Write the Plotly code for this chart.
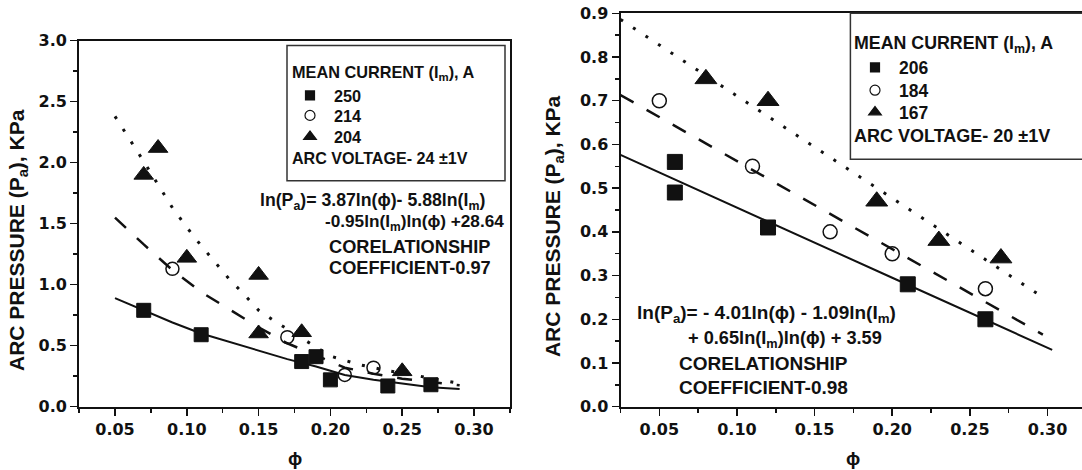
import plotly.graph_objects as go

# ---------------- data ----------------
# Left panel: arc voltage 24 +/-1 V
L_phi_250 = [0.07, 0.11, 0.18, 0.19, 0.20, 0.24, 0.27]
L_pa_250 = [0.79, 0.59, 0.37, 0.41, 0.22, 0.17, 0.18]
L_phi_214 = [0.09, 0.17, 0.21, 0.23]
L_pa_214 = [1.13, 0.57, 0.26, 0.32]
L_phi_204 = [0.07, 0.08, 0.10, 0.15, 0.15, 0.18, 0.25]
L_pa_204 = [1.90, 2.12, 1.22, 1.08, 0.60, 0.61, 0.29]

L_fit_phi_250 = [0.05, 0.07, 0.09, 0.11, 0.13, 0.15, 0.17, 0.19, 0.21, 0.23, 0.25, 0.27, 0.29]
L_fit_pa_250 = [0.89, 0.79, 0.69, 0.60, 0.53, 0.455, 0.39, 0.33, 0.26, 0.22, 0.187, 0.16, 0.145]
L_fit_phi_214 = [0.05, 0.07, 0.09, 0.11, 0.13, 0.15, 0.17, 0.19, 0.21, 0.23, 0.25, 0.27, 0.29]
L_fit_pa_214 = [1.55, 1.33, 1.12, 0.94, 0.795, 0.65, 0.52, 0.42, 0.32, 0.27, 0.23, 0.203, 0.175]
L_fit_phi_204 = [0.05, 0.06, 0.07, 0.08, 0.09, 0.10, 0.11, 0.12, 0.13, 0.14, 0.15, 0.16,
                 0.18, 0.20, 0.22, 0.24, 0.26, 0.29]
L_fit_pa_204 = [2.38, 2.20, 2.01, 1.82, 1.63, 1.47, 1.32, 1.18, 1.04, 0.92, 0.79, 0.71,
                0.56, 0.415, 0.345, 0.295, 0.255, 0.19]

# Right panel: arc voltage 20 +/-1 V
R_phi_206 = [0.06, 0.06, 0.12, 0.21, 0.26]
R_pa_206 = [0.56, 0.49, 0.41, 0.28, 0.20]
R_phi_184 = [0.05, 0.11, 0.16, 0.20, 0.26]
R_pa_184 = [0.70, 0.55, 0.40, 0.35, 0.27]
R_phi_167 = [0.08, 0.12, 0.19, 0.23, 0.27]
R_pa_167 = [0.75, 0.70, 0.47, 0.38, 0.34]

R_fit_phi_206 = [0.025, 0.10, 0.20, 0.303]
R_fit_pa_206 = [0.576, 0.455, 0.295, 0.13]
R_fit_phi_184 = [0.025, 0.10, 0.20, 0.297]
R_fit_pa_184 = [0.713, 0.562, 0.36, 0.165]
R_fit_phi_167 = [0.025, 0.10, 0.20, 0.298]
R_fit_pa_167 = [0.886, 0.71, 0.477, 0.248]

L_names = ["250", "214", "204"]
R_names = ["206", "184", "167"]

# tick values / labels
X_tickvals = [0.05, 0.10, 0.15, 0.20, 0.25, 0.30]
X_ticklabels = ["0.05", "0.10", "0.15", "0.20", "0.25", "0.30"]
L_y_tickvals = [0.0, 0.5, 1.0, 1.5, 2.0, 2.5, 3.0]
L_y_ticklabels = ["0.0", "0.5", "1.0", "1.5", "2.0", "2.5", "3.0"]
R_y_tickvals = [0.0, 0.1, 0.2, 0.3, 0.4, 0.5, 0.6, 0.7, 0.8, 0.9]
R_y_ticklabels = ["0.0", "0.1", "0.2", "0.3", "0.4", "0.5", "0.6", "0.7", "0.8", "0.9"]

# ---------------- figure ----------------
W, H = 1082, 470
def px(x):
    return x / W
def py(y):
    return (H - y) / H

INK = "#111111"
SYM = ["square", "circle-open", "triangle-up"]

fig = go.Figure()

def add_panel(xa, ya, fits, pts, names, legends, msz):
    dashes = ["solid", "15px,15px", "3px,12px"]
    widths = [2, 2.5, 3]
    for (fx, fy), d, w in zip(fits, dashes, widths):
        fig.add_trace(go.Scatter(x=fx, y=fy, mode="lines", xaxis=xa, yaxis=ya,
                                 line=dict(color=INK, width=w, dash=d),
                                 showlegend=False, hoverinfo="skip"))
    for (x, y), s, m in zip(pts, SYM, msz):
        fig.add_trace(go.Scatter(x=x, y=y, mode="markers", xaxis=xa, yaxis=ya,
                                 marker=dict(symbol=s, size=m, color=INK,
                                             line=dict(color=INK, width=1.5 if s == "circle-open" else 1)),
                                 showlegend=False))
    # legend glyphs (one small legend per entry)
    lsz = [9, 10, 11]
    for s, n, m, lg in zip(SYM, names, lsz, legends):
        fig.add_trace(go.Scatter(x=[None], y=[None], mode="markers", xaxis=xa, yaxis=ya,
                                 marker=dict(symbol=s, size=m, color=INK,
                                             line=dict(color=INK, width=1.2)),
                                 name=n, legend=lg, showlegend=True))

add_panel("x", "y",
          [(L_fit_phi_250, L_fit_pa_250), (L_fit_phi_214, L_fit_pa_214), (L_fit_phi_204, L_fit_pa_204)],
          [(L_phi_250, L_pa_250), (L_phi_214, L_pa_214), (L_phi_204, L_pa_204)],
          L_names, ["legend", "legend2", "legend3"], [14, 13, 17])
add_panel("x2", "y2",
          [(R_fit_phi_206, R_fit_pa_206), (R_fit_phi_184, R_fit_pa_184), (R_fit_phi_167, R_fit_pa_167)],
          [(R_phi_206, R_pa_206), (R_phi_184, R_pa_184), (R_phi_167, R_pa_167)],
          R_names, ["legend4", "legend5", "legend6"], [15, 14, 19])

tickfont = dict(family="DejaVu Sans", size=16, color=INK)
axis_common = dict(showline=True, linecolor=INK, linewidth=2, ticks="outside", ticklen=7,
                   tickwidth=1.5, tickcolor=INK, tickfont=tickfont, showgrid=False,
                   zeroline=False, automargin=False, tickmode="array")

def bold(labels):
    return ["<b>%s</b>" % t for t in labels]

def minor(dt):
    return dict(dtick=dt, tick0=0, ticks="outside", ticklen=4, tickwidth=1.5, tickcolor=INK)

def leg(x, y, size):
    return dict(x=px(x), y=py(y), xanchor="left", yanchor="middle",
                font=dict(family="Liberation Sans", size=size, color=INK, weight="bold"),
                bgcolor="rgba(0,0,0,0)", borderwidth=0, itemwidth=38)

fig.update_layout(
    width=W, height=H, margin=dict(l=0, r=0, t=0, b=0),
    paper_bgcolor="white", plot_bgcolor="white", hovermode=False,
    xaxis=dict(domain=[px(79.1), px(509.9)], range=[0.025, 0.325],
               tickvals=X_tickvals, ticktext=bold(X_ticklabels), mirror=True, anchor="y",
               minor=minor(0.025), **axis_common),
    yaxis=dict(domain=[py(406.7), py(40.7)], range=[0, 3.0],
               tickvals=L_y_tickvals, ticktext=bold(L_y_ticklabels), mirror=True, anchor="x",
               minor=minor(0.25), **axis_common),
    xaxis2=dict(domain=[px(620.5), 1.0], range=[0.025, 0.3222],
                tickvals=X_tickvals, ticktext=bold(X_ticklabels), mirror=True, anchor="y2",
                minor=minor(0.025), **axis_common),
    yaxis2=dict(domain=[py(406.7), py(13.3)], range=[0, 0.9],
                tickvals=R_y_tickvals, ticktext=bold(R_y_ticklabels), mirror=False, anchor="x2",
                minor=minor(0.05), **axis_common),
    legend=leg(286, 95.8, 16.3),
    legend2=leg(286, 115.8, 16.3),
    legend3=leg(286, 137, 16.3),
    legend4=leg(851, 67.5, 17.5),
    legend5=leg(851, 90.3, 17.5),
    legend6=leg(851, 112.2, 17.5),
)

# legend boxes
fig.add_shape(type="rect", xref="paper", yref="paper", x0=px(287), x1=px(505), y0=py(180.7), y1=py(45.5),
              line=dict(color="#333333", width=1.5))
fig.add_shape(type="rect", xref="paper", yref="paper", x0=px(850.4), x1=px(1095), y0=py(159.3), y1=py(13.3),
              line=dict(color="#333333", width=1.5))

def note(text, x, y, size=17.5, anchor="left", angle=0):
    fig.add_annotation(text=text, xref="paper", yref="paper", x=px(x), y=py(y),
                       xanchor=anchor, yanchor="middle", showarrow=False, textangle=angle,
                       font=dict(family="Liberation Sans, DejaVu Sans", size=size, color=INK, weight="bold"))

# left panel texts
note("MEAN CURRENT (I<sub>m</sub>), A", 289.5, 73.5, size=16.3)
note("ARC VOLTAGE- 24 ±1V", 289.5, 158.3, size=16.1)
note("ln(P<sub>a</sub>)= 3.87ln(ϕ)- 5.88ln(I<sub>m</sub>)", 258.2, 201, size=17.7)
note("-0.95ln(I<sub>m</sub>)ln(ϕ) +28.64", 322.5, 223, size=17.2)
note("CORELATIONSHIP", 327, 246.7, size=18.2)
note("COEFFICIENT-0.97", 327, 268.3, size=18.2)
note("ARC PRESSURE (P<sub>a</sub>), KPa", 18, 240, size=21, anchor="center", angle=-90)
note("ϕ", 294.5, 458, size=19, anchor="center")

# right panel texts
note("MEAN CURRENT (I<sub>m</sub>), A", 852, 45, size=17.8)
note("ARC VOLTAGE- 20 ±1V", 852, 136.3, size=18)
note("ln(P<sub>a</sub>)= - 4.01ln(ϕ) - 1.09ln(I<sub>m</sub>)", 634.8, 314, size=19)
note("+ 0.65ln(I<sub>m</sub>)ln(ϕ) + 3.59", 685.8, 340, size=18.2)
note("CORELATIONSHIP", 676.8, 363.3, size=19)
note("COEFFICIENT-0.98", 676.8, 387.3, size=19)
note("ARC PRESSURE (P<sub>a</sub>), KPa", 553.3, 225.8, size=21, anchor="center", angle=-90)
note("ϕ", 853, 458, size=19, anchor="center")

fig.write_html("out.html", config={"displayModeBar": False, "staticPlot": True},
               post_script="document.body.style.margin='0';document.body.style.overflow='hidden';")
